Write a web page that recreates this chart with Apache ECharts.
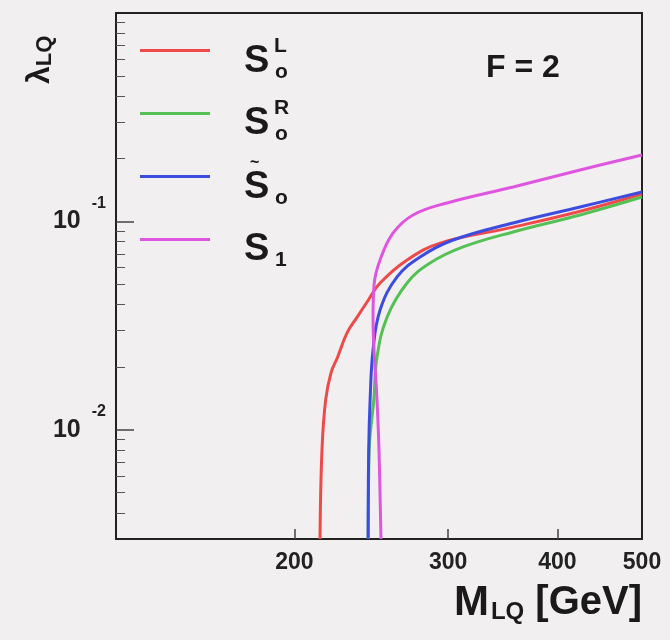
<!DOCTYPE html>
<html>
<head>
<meta charset="utf-8">
<script src="https://cdn.jsdelivr.net/npm/echarts@6/dist/echarts.min.js"></script>
<style>
html, body { margin: 0; padding: 0; background: #f2eff0; }
#main { width: 670px; height: 640px; }
</style>
</head>
<body>
<div id="main"></div>
<script>
// 数据: M_LQ (GeV) 与 λ_LQ
var soL_M = [214.0, 215.1, 217.2, 220.3, 224.2, 229.8, 236.0, 242.9, 250.7, 269.2, 293.7, 356, 425, 500];
var soL_lam = [0.003, 0.008, 0.0139, 0.0188, 0.0224, 0.0292, 0.0348, 0.0418, 0.0507, 0.0654, 0.0788, 0.094, 0.112, 0.1355];

var soR_M = [243.0, 243.6, 246.6, 248.7, 255.4, 269.2, 286.0, 312.0, 356, 424.7, 500];
var soR_lam = [0.003, 0.008, 0.0139, 0.0224, 0.0348, 0.0507, 0.0632, 0.0755, 0.0891, 0.1075, 0.131];

var soT_M = [242.9, 243.3, 244.2, 246.1, 250.7, 262.2, 278.6, 303.9, 356, 424.7, 500];
var soT_lam = [0.003, 0.008, 0.0139, 0.0242, 0.0376, 0.0542, 0.0676, 0.0815, 0.0984, 0.1174, 0.1385];

var s1_M = [251.3, 250.0, 248.7, 246.1, 246.8, 250.7, 259.5, 273.5, 299.1, 356, 424.7, 500];
var s1_lam = [0.003, 0.008, 0.0139, 0.0348, 0.05, 0.0654, 0.0881, 0.1075, 0.1227, 0.1464, 0.1767, 0.2084];

var seriesNames = ['SoL', 'SoR', 'SoT', 'S1'];
var seriesColors = ['#ef4a4a', '#55c055', '#3c4ce0', '#e055e0'];

var xTicks = [200, 300, 400];
var xLabels = [200, 300, 400, 500];
var yMajor = [0.01, 0.1];
var yMinor = [0.004, 0.005, 0.006, 0.007, 0.008, 0.009,
  0.02, 0.03, 0.04, 0.05, 0.06, 0.07, 0.08, 0.09,
  0.2, 0.3, 0.4, 0.5, 0.6, 0.7, 0.8, 0.9];

function zip(a, b) {
  return a.map(function (v, i) { return [v, b[i]]; });
}

var FONT = "'Liberation Sans', Arial, sans-serif";
var myChart = echarts.init(document.getElementById('main'));

function makeSeries(name, xs, ys, color) {
  return {
    name: name,
    type: 'line',
    data: zip(xs, ys),
    showSymbol: false,
    smooth: 0.4,
    xAxisIndex: 0,
    yAxisIndex: 0,
    lineStyle: { color: color, width: 3 },
    itemStyle: { color: color }
  };
}

// 图例文字 (上下标)
var legendRows = [50, 112, 176, 238];
var labelGraphics = [];
var sup = ['L', 'R', '', ''];
var sub = ['o', 'o', 'o', '1'];
legendRows.forEach(function (y, i) {
  labelGraphics.push({ type: 'text', left: 244, top: y - 7,
    style: { text: 'S', font: 'bold 38px ' + FONT, fill: '#1a1a1a' } });
  if (sup[i]) {
    labelGraphics.push({ type: 'text', left: 274, top: y - 14,
      style: { text: sup[i], font: 'bold 21px ' + FONT, fill: '#1a1a1a' } });
  }
  labelGraphics.push({ type: 'text', left: 275, top: y + 12,
    style: { text: sub[i], font: 'bold 21px ' + FONT, fill: '#1a1a1a' } });
});
labelGraphics.push({ type: 'text', left: 250, top: legendRows[2] - 21,
  style: { text: '~', font: 'bold 16px ' + FONT, fill: '#1a1a1a' } });

var option = {
  backgroundColor: '#f2eff0',
  animation: false,
  grid: {
    left: 116, top: 13, width: 526, height: 526,
    show: true, borderColor: '#222', borderWidth: 2, backgroundColor: 'transparent'
  },
  legend: {
    orient: 'vertical',
    left: 135, top: 44,
    itemWidth: 70, itemHeight: 3,
    itemGap: 60,
    icon: 'rect',
    selectedMode: false,
    formatter: function () { return ''; },
    textStyle: { fontSize: 12 },
    data: seriesNames
  },
  xAxis: {
    type: 'log',
    min: 125, max: 500,
    axisLine: { lineStyle: { color: '#222', width: 2 } },
    axisTick: { inside: true, length: 10, customValues: xTicks, lineStyle: { color: '#444', width: 1.5 } },
    axisLabel: {
      customValues: xLabels, margin: 12,
      fontFamily: FONT, fontWeight: 'bold', fontSize: 23, color: '#222'
    },
    splitLine: { show: false }
  },
  yAxis: [
    {
      type: 'log',
      min: 0.003, max: 1,
      axisLine: { lineStyle: { color: '#222', width: 2 } },
      axisTick: { inside: true, length: 18, customValues: yMajor, lineStyle: { color: '#444', width: 1.5 } },
      axisLabel: {
        customValues: yMajor, margin: 10,
        formatter: function (v) {
          return v < 0.05 ? '{b|10}{s|-2}' : '{b|10}{s|-1}';
        },
        rich: {
          b: { fontFamily: FONT, fontWeight: 'bold', fontSize: 25, color: '#222' },
          s: { fontFamily: FONT, fontWeight: 'bold', fontSize: 16, color: '#222', padding: [0, 0, 36, 11] }
        }
      },
      splitLine: { show: false }
    },
    {
      type: 'log',
      min: 0.003, max: 1,
      position: 'left',
      axisLine: { show: false },
      axisTick: { inside: true, length: 9, customValues: yMinor, lineStyle: { color: '#555', width: 1 } },
      axisLabel: { show: false },
      splitLine: { show: false }
    }
  ],
  graphic: labelGraphics.concat([
    { type: 'text', left: 486, top: 52,
      style: { text: 'F = 2', font: 'bold 32px ' + FONT, fill: '#1a1a1a' } },
    { type: 'text', right: 28, top: 582,
      style: {
        text: '{m|M}{q|LQ}{g| [GeV]}',
        rich: {
          m: { font: 'bold 42px ' + FONT, fill: '#1a1a1a' },
          q: { font: 'bold 24px ' + FONT, fill: '#1a1a1a', verticalAlign: 'bottom', padding: [0, 0, 0, 2] },
          g: { font: 'bold 40px ' + FONT, fill: '#1a1a1a' }
        }
      } },
    { type: 'text', x: 24, y: 84, rotation: Math.PI / 2,
      style: {
        text: '{l|λ}{q|LQ}',
        rich: {
          l: { font: 'bold 32px ' + FONT, fill: '#1a1a1a' },
          q: { font: 'bold 22px ' + FONT, fill: '#1a1a1a', verticalAlign: 'bottom' }
        }
      } }
  ]),
  series: [
    makeSeries(seriesNames[0], soL_M, soL_lam, seriesColors[0]),
    makeSeries(seriesNames[1], soR_M, soR_lam, seriesColors[1]),
    makeSeries(seriesNames[2], soT_M, soT_lam, seriesColors[2]),
    makeSeries(seriesNames[3], s1_M, s1_lam, seriesColors[3])
  ]
};

myChart.setOption(option);
</script>
</body>
</html>
